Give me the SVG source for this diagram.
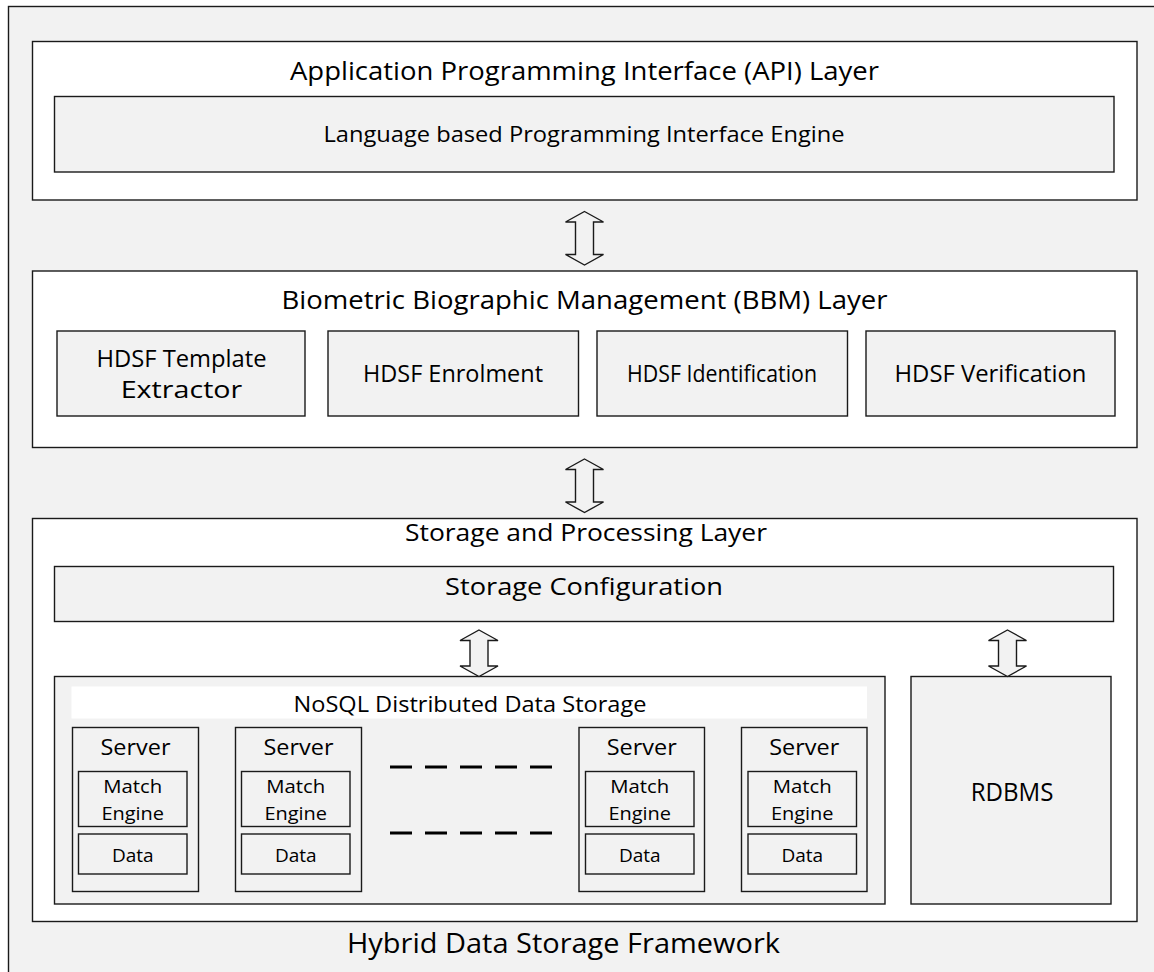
<svg xmlns="http://www.w3.org/2000/svg" width="1154" height="972" viewBox="0 0 1154 972">
<style>
.g{fill:#f2f2f2;stroke:#1a1a1a;stroke-width:1.4}
.w{fill:#ffffff;stroke:#1a1a1a;stroke-width:1.4}
.t{font-family:"Open Sans","Liberation Sans",sans-serif;fill:#000;text-anchor:middle}
.arr{fill:#f2f2f2;stroke:#1a1a1a;stroke-width:1.4;stroke-linejoin:miter}
.dash{stroke:#000;stroke-width:3;stroke-dasharray:22 13;fill:none}
</style>
<rect id="frame" x="8.5" y="6.5" width="1170" height="1000" class="g"/>
<g id="api-layer">
<rect x="32.5" y="41.5" width="1104.5" height="158.5" class="w"/>
<text class="t" x="584.5" y="80" font-size="25" textLength="589" lengthAdjust="spacingAndGlyphs">Application Programming Interface (API) Layer</text>
</g>
<g id="api-engine">
<rect x="54.5" y="96.5" width="1059.5" height="75.5" class="g"/>
<text class="t" x="584" y="142" font-size="22" textLength="521" lengthAdjust="spacingAndGlyphs">Language based Programming Interface Engine</text>
</g>
<g id="bbm-layer">
<rect x="32.5" y="271" width="1104.5" height="176.5" class="w"/>
<text class="t" x="584.5" y="309" font-size="25" textLength="606" lengthAdjust="spacingAndGlyphs">Biometric Biographic Management (BBM) Layer</text>
</g>
<g id="template-extractor">
<rect x="57" y="331" width="248" height="85" class="g"/>
<text class="t" x="181.5" y="367" font-size="23" textLength="170" lengthAdjust="spacingAndGlyphs">HDSF Template</text>
<text class="t" x="181.5" y="397.5" font-size="23" textLength="121.6" lengthAdjust="spacingAndGlyphs">Extractor</text>
</g>
<g id="enrolment">
<rect x="328" y="331" width="250.5" height="85" class="g"/>
<text class="t" x="453" y="382" font-size="23" textLength="180" lengthAdjust="spacingAndGlyphs">HDSF Enrolment</text>
</g>
<g id="identification">
<rect x="597" y="331" width="250.5" height="85" class="g"/>
<text class="t" x="722" y="382" font-size="23" textLength="190" lengthAdjust="spacingAndGlyphs">HDSF Identification</text>
</g>
<g id="verification">
<rect x="866" y="331" width="249" height="85" class="g"/>
<text class="t" x="990.5" y="382" font-size="23" textLength="192" lengthAdjust="spacingAndGlyphs">HDSF Verification</text>
</g>
<g id="storage-layer">
<rect x="32.5" y="518.5" width="1104.5" height="403" class="w"/>
<text class="t" x="586" y="541" font-size="24" textLength="362" lengthAdjust="spacingAndGlyphs">Storage and Processing Layer</text>
</g>
<g id="storage-config">
<rect x="54.5" y="566.5" width="1059" height="55" class="g"/>
<text class="t" x="584" y="595" font-size="24" textLength="278" lengthAdjust="spacingAndGlyphs">Storage Configuration</text>
</g>
<g id="nosql">
<rect x="54.5" y="676.5" width="830.5" height="227.5" class="g"/>
<rect x="71.5" y="686.5" width="795.5" height="32" fill="#ffffff"/>
<text class="t" x="470" y="711.5" font-size="22" textLength="353" lengthAdjust="spacingAndGlyphs">NoSQL Distributed Data Storage</text>
</g>
<g id="server1">
<rect x="72.5" y="727.5" width="126" height="164" class="g"/>
<text class="t" x="135.5" y="755" font-size="22" textLength="70" lengthAdjust="spacingAndGlyphs">Server</text>
<rect x="78.5" y="771.5" width="108.5" height="55" class="g"/>
<text class="t" x="132.75" y="792.5" font-size="19" textLength="59" lengthAdjust="spacingAndGlyphs">Match</text>
<text class="t" x="132.75" y="819.5" font-size="19" textLength="62.7" lengthAdjust="spacingAndGlyphs">Engine</text>
<rect x="78.5" y="834" width="108.5" height="40" class="g"/>
<text class="t" x="132.75" y="861.5" font-size="19" textLength="41.7" lengthAdjust="spacingAndGlyphs">Data</text>
</g>
<g id="server2">
<rect x="235.5" y="727.5" width="126" height="164" class="g"/>
<text class="t" x="298.5" y="755" font-size="22" textLength="70" lengthAdjust="spacingAndGlyphs">Server</text>
<rect x="241.5" y="771.5" width="108.5" height="55" class="g"/>
<text class="t" x="295.75" y="792.5" font-size="19" textLength="59" lengthAdjust="spacingAndGlyphs">Match</text>
<text class="t" x="295.75" y="819.5" font-size="19" textLength="62.7" lengthAdjust="spacingAndGlyphs">Engine</text>
<rect x="241.5" y="834" width="108.5" height="40" class="g"/>
<text class="t" x="295.75" y="861.5" font-size="19" textLength="41.7" lengthAdjust="spacingAndGlyphs">Data</text>
</g>
<g id="server3">
<rect x="579" y="727.5" width="125.5" height="164" class="g"/>
<text class="t" x="641.75" y="755" font-size="22" textLength="70" lengthAdjust="spacingAndGlyphs">Server</text>
<rect x="585.5" y="771.5" width="108.5" height="55" class="g"/>
<text class="t" x="639.75" y="792.5" font-size="19" textLength="59" lengthAdjust="spacingAndGlyphs">Match</text>
<text class="t" x="639.75" y="819.5" font-size="19" textLength="62.7" lengthAdjust="spacingAndGlyphs">Engine</text>
<rect x="585.5" y="834" width="108.5" height="40" class="g"/>
<text class="t" x="639.75" y="861.5" font-size="19" textLength="41.7" lengthAdjust="spacingAndGlyphs">Data</text>
</g>
<g id="server4">
<rect x="741.5" y="727.5" width="125.5" height="164" class="g"/>
<text class="t" x="804.25" y="755" font-size="22" textLength="70" lengthAdjust="spacingAndGlyphs">Server</text>
<rect x="748" y="771.5" width="108.5" height="55" class="g"/>
<text class="t" x="802.25" y="792.5" font-size="19" textLength="59" lengthAdjust="spacingAndGlyphs">Match</text>
<text class="t" x="802.25" y="819.5" font-size="19" textLength="62.7" lengthAdjust="spacingAndGlyphs">Engine</text>
<rect x="748" y="834" width="108.5" height="40" class="g"/>
<text class="t" x="802.25" y="861.5" font-size="19" textLength="41.7" lengthAdjust="spacingAndGlyphs">Data</text>
</g>
<g id="ellipsis">
<line x1="390" y1="767" x2="556" y2="767" class="dash"/>
<line x1="390" y1="833" x2="556" y2="833" class="dash"/>
</g>
<g id="rdbms">
<rect x="911" y="676.5" width="200" height="227.5" class="g"/>
<text class="t" x="1012" y="801" font-size="25" textLength="82.7" lengthAdjust="spacingAndGlyphs">RDBMS</text>
</g>
<g id="connectors">
<polygon class="arr" points="584.5,211.5 603.5,222 593.5,222 593.5,254.5 603.5,254.5 584.5,265 565.5,254.5 575.5,254.5 575.5,222 565.5,222"/>
<polygon class="arr" points="584.5,459 603.5,469.5 593.5,469.5 593.5,502 603.5,502 584.5,512.5 565.5,502 575.5,502 575.5,469.5 565.5,469.5"/>
<polygon class="arr" points="479,630 498,640.5 488,640.5 488,666 498,666 479,676.5 460,666 470,666 470,640.5 460,640.5"/>
<polygon class="arr" points="1007.5,630 1026.5,640.5 1016.5,640.5 1016.5,666 1026.5,666 1007.5,676.5 988.5,666 998.5,666 998.5,640.5 988.5,640.5"/>
</g>
<text class="t" x="563.5" y="953" font-size="27" textLength="433" lengthAdjust="spacingAndGlyphs">Hybrid Data Storage Framework</text>
</svg>
